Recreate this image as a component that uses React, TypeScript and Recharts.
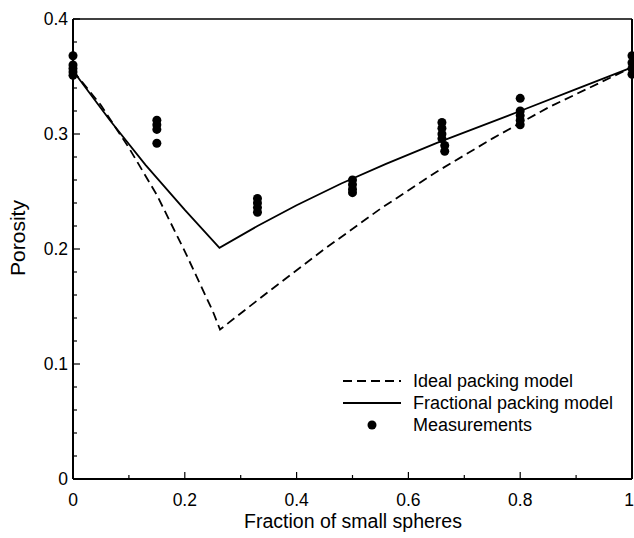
import React from "react"
import { ComposedChart, Line, Scatter, XAxis, YAxis, ReferenceLine, Legend, Label } from "recharts"

const fractionTicks = [0, 0.1, 0.2, 0.3, 0.4, 0.5, 0.6, 0.7, 0.8, 0.9, 1]
const porosityTicks = [
  0, 0.02, 0.04, 0.06, 0.08, 0.1, 0.12, 0.14, 0.16, 0.18, 0.2,
  0.22, 0.24, 0.26, 0.28, 0.3, 0.32, 0.34, 0.36, 0.38, 0.4,
]

// ideal packing model (dashed)
const idealFraction = [0, 0.05, 0.1, 0.15, 0.2, 0.25, 0.263, 0.35, 0.45, 0.55, 0.65, 0.75, 0.85, 1]
const idealPorosity = [0.355, 0.325, 0.288, 0.247, 0.198, 0.146, 0.13, 0.163, 0.2, 0.235, 0.267, 0.296, 0.323, 0.358]

// fractional packing model (solid)
const fractionalFraction = [0, 0.066, 0.13, 0.2, 0.262, 0.33, 0.4, 0.48, 0.56, 0.65, 0.8, 0.9, 1]
const fractionalPorosity = [0.355, 0.312, 0.273, 0.234, 0.201, 0.22, 0.238, 0.257, 0.274, 0.292, 0.32, 0.339, 0.358]

// measurements
const measuredFraction = [
  0, 0, 0, 0, 0,
  0.15, 0.15, 0.15, 0.15,
  0.33, 0.33, 0.33, 0.33,
  0.5, 0.5, 0.5, 0.5,
  0.66, 0.66, 0.66, 0.66, 0.665, 0.665,
  0.8, 0.8, 0.8, 0.8, 0.8,
  1, 1, 1, 1,
]
const measuredPorosity = [
  0.368, 0.36, 0.357, 0.354, 0.351,
  0.312, 0.308, 0.304, 0.292,
  0.244, 0.24, 0.236, 0.232,
  0.26, 0.256, 0.252, 0.249,
  0.31, 0.305, 0.3, 0.296, 0.29, 0.285,
  0.331, 0.32, 0.316, 0.312, 0.308,
  0.368, 0.362, 0.357, 0.352,
]

const idealData = idealFraction.map((f, i) => ({ fraction: f, porosity: idealPorosity[i] }))
const fractionalData = fractionalFraction.map((f, i) => ({ fraction: f, porosity: fractionalPorosity[i] }))
const measuredData = measuredFraction.map((f, i) => ({ fraction: f, porosity: measuredPorosity[i] }))

const FONT = '"Liberation Sans", Arial, Helvetica, sans-serif'

function fmt(v: number) {
  return String(Number(v.toFixed(1)))
}

function PorosityTick({ x, y, payload }: any) {
  const major = Math.round(payload.value * 100) % 10 === 0
  return (
    <g>
      <line x1={x} y1={y} x2={x + (major ? 7 : 4)} y2={y} stroke="#000" strokeWidth={1.2} />
      {major && (
        <text x={x - 5} y={y} textAnchor="end" dominantBaseline="central" fontSize={17.5} fill="#000" fontFamily={FONT}>
          {fmt(payload.value)}
        </text>
      )}
    </g>
  )
}

function FractionTick({ x, y, payload }: any) {
  const major = Math.round(payload.value * 10) % 2 === 0
  const last = payload.value === 1
  return (
    <g>
      <line x1={x} y1={y} x2={x} y2={y - (major ? 7 : 4)} stroke="#000" strokeWidth={1.2} />
      {major && (
        <text
          x={last ? x + 2 : x}
          y={y + 21}
          textAnchor={last ? "end" : "middle"}
          dominantBaseline="central"
          fontSize={17.5}
          fill="#000"
          fontFamily={FONT}
        >
          {fmt(payload.value)}
        </text>
      )}
    </g>
  )
}

function LegendBox() {
  const row = { display: "flex", alignItems: "center", height: 22 }
  const txt = { marginLeft: 12, fontSize: 18, fontFamily: FONT, color: "#000", whiteSpace: "nowrap" as const }
  return (
    <div>
      <div style={row}>
        <svg width={58} height={10}>
          <line x1={0} y1={5} x2={58} y2={5} stroke="#000" strokeWidth={1.8} strokeDasharray="9 5" />
        </svg>
        <span style={txt}>Ideal packing model</span>
      </div>
      <div style={row}>
        <svg width={58} height={10}>
          <line x1={0} y1={5} x2={58} y2={5} stroke="#000" strokeWidth={1.8} />
        </svg>
        <span style={txt}>Fractional packing model</span>
      </div>
      <div style={row}>
        <svg width={58} height={10}>
          <circle cx={29} cy={5} r={4.5} fill="#000" />
        </svg>
        <span style={txt}>Measurements</span>
      </div>
    </div>
  )
}

export default function App() {
  return (
    <div style={{ position: "absolute", left: 0, top: 0, background: "#fff" }}>
      <ComposedChart width={634} height={538} margin={{ top: 19, right: 2, bottom: 0, left: 0 }}>
        <XAxis
          dataKey="fraction"
          type="number"
          domain={[0, 1]}
          ticks={fractionTicks}
          interval={0}
          height={59}
          tickSize={0}
          tickMargin={0}
          tickLine={false}
          axisLine={{ stroke: "#000", strokeWidth: 2 }}
          tick={<FractionTick />}
        >
          <Label
            content={() => (
              <text x={353} y={521} textAnchor="middle" dominantBaseline="central" fontSize={19.5} fill="#000" fontFamily={FONT}>
                Fraction of small spheres
              </text>
            )}
          />
        </XAxis>
        <YAxis
          dataKey="porosity"
          type="number"
          domain={[0, 0.4]}
          ticks={porosityTicks}
          interval={0}
          width={73}
          tickSize={0}
          tickMargin={0}
          tickLine={false}
          axisLine={{ stroke: "#000", strokeWidth: 2 }}
          tick={<PorosityTick />}
        >
          <Label
            content={() => (
              <text
                x={17}
                y={238}
                transform="rotate(-90 17 238)"
                textAnchor="middle"
                dominantBaseline="central"
                fontSize={21}
                fill="#000"
                fontFamily={FONT}
              >
                Porosity
              </text>
            )}
          />
        </YAxis>
        <ReferenceLine y={0.4} stroke="#000" strokeWidth={1.5} />
        <ReferenceLine x={1} stroke="#000" strokeWidth={2} />
        <Line
          data={idealData}
          dataKey="porosity"
          type="linear"
          stroke="#000"
          strokeWidth={1.8}
          strokeDasharray="9 5"
          dot={false}
          activeDot={false}
          isAnimationActive={false}
        />
        <Line
          data={fractionalData}
          dataKey="porosity"
          type="linear"
          stroke="#000"
          strokeWidth={1.8}
          dot={false}
          activeDot={false}
          isAnimationActive={false}
        />
        <Scatter
          data={measuredData}
          dataKey="porosity"
          fill="#000"
          isAnimationActive={false}
          shape={(p: any) => <circle cx={p.cx} cy={p.cy} r={4.5} fill="#000" />}
        />
        <Legend
          layout="vertical"
          align="center"
          verticalAlign="middle"
          wrapperStyle={{ left: 343, top: 370, width: 290 }}
          content={() => <LegendBox />}
        />
      </ComposedChart>
    </div>
  )
}
